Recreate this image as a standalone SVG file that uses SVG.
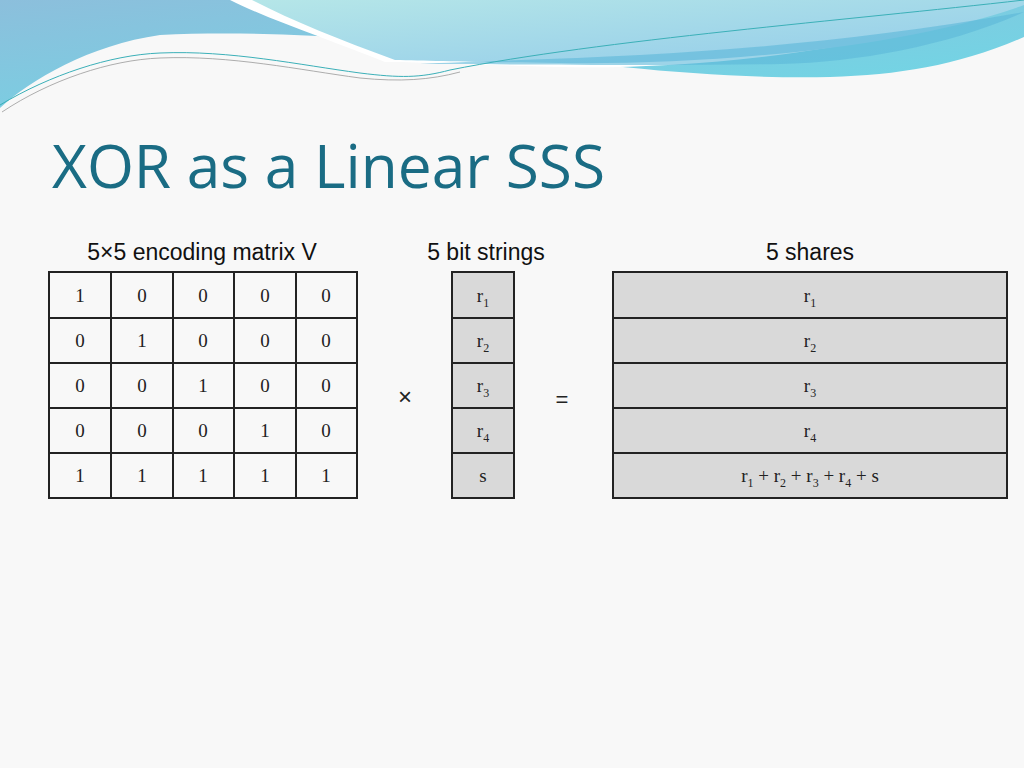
<svg xmlns="http://www.w3.org/2000/svg" width="1024" height="768" viewBox="0 0 1024 768">
<defs>
<linearGradient id="g1" x1="0" y1="0" x2="1" y2="1"><stop offset="0" stop-color="#8cbfdc"/><stop offset="1" stop-color="#6dd9e6"/></linearGradient>
<linearGradient id="g2" x1="0" y1="0" x2="1" y2="1"><stop offset="0" stop-color="#b5e6e8"/><stop offset="1" stop-color="#92cbea"/></linearGradient>
</defs>
<style>
.t{font-family:"Liberation Serif",serif;font-size:19px;fill:#222;text-anchor:middle}
.sub{font-size:12px}
.h{font-family:"Liberation Sans",Arial,sans-serif;font-size:23px;fill:#111;text-anchor:middle}
.c{fill:none;stroke:#222;stroke-width:2}
.s{fill:#d9d9d9;stroke:#222;stroke-width:2}
</style>
<rect width="1024" height="768" fill="#f8f8f8"/>
<g id="header">
<path d="M0 0 H1024 V37 C960 65 900 75 830 77 C700 80 560 60 480 50 C380 38 260 30 160 35 C90 45 30 80 0 108 Z" fill="url(#g1)"/>
<path d="M230 0 H1024 V0 C880 50 700 70 560 67 C480 65 420 62 385 62 C330 40 270 20 230 0 Z" fill="#ffffff"/>
<path d="M252 0 H1024 V5 C900 50 700 65 560 63 C480 62 430 61 395 60 C340 40 290 20 252 0 Z" fill="url(#g2)"/>
<path d="M1024 12 C950 45 860 62 780 64 C650 66 500 64 420 64 C520 58 760 60 1024 12 Z" fill="#5bb8d8" opacity="0.6"/>
<path d="M0 105 C50 75 110 55 160 53 C230 50 300 65 360 73 C400 78 420 78 450 70 C600 40 850 20 1024 0" fill="none" stroke="#3bb0b8" stroke-width="1"/>
<path d="M2 112 C50 80 110 60 160 58 C230 55 300 70 360 78 C400 82 430 80 460 72" fill="none" stroke="#999" stroke-width="0.8"/>
</g>
<text x="52" y="188" font-family="Open Sans,Liberation Sans,sans-serif" font-size="60" fill="#1a6c84" textLength="553" lengthAdjust="spacingAndGlyphs">XOR as a Linear SSS</text>
<text class="h" x="202" y="260">5×5 encoding matrix V</text>
<text class="h" x="486" y="260">5 bit strings</text>
<text class="h" x="810" y="260">5 shares</text>
<g id="matrix">
<rect class="c" x="49" y="272" width="308" height="226"/>
<path class="c" d="M111 272V498M173 272V498M234 272V498M296 272V498M49 318H357M49 363H357M49 408H357M49 453H357"/>
<g class="t">
<text x="80" y="302">1</text><text x="142" y="302">0</text><text x="203" y="302">0</text><text x="265" y="302">0</text><text x="326" y="302">0</text>
<text x="80" y="347">0</text><text x="142" y="347">1</text><text x="203" y="347">0</text><text x="265" y="347">0</text><text x="326" y="347">0</text>
<text x="80" y="392">0</text><text x="142" y="392">0</text><text x="203" y="392">1</text><text x="265" y="392">0</text><text x="326" y="392">0</text>
<text x="80" y="437">0</text><text x="142" y="437">0</text><text x="203" y="437">0</text><text x="265" y="437">1</text><text x="326" y="437">0</text>
<text x="80" y="482">1</text><text x="142" y="482">1</text><text x="203" y="482">1</text><text x="265" y="482">1</text><text x="326" y="482">1</text>
</g>
</g>
<text x="405" y="405" font-family="Liberation Sans,sans-serif" font-size="24" text-anchor="middle" fill="#222">×</text>
<g id="bits">
<rect class="s" x="452" y="272" width="62" height="226"/>
<path class="c" d="M452 318H514M452 363H514M452 408H514M452 453H514"/>
<g class="t">
<text x="483" y="302">r<tspan class="sub" dy="5">1</tspan></text>
<text x="483" y="347">r<tspan class="sub" dy="5">2</tspan></text>
<text x="483" y="392">r<tspan class="sub" dy="5">3</tspan></text>
<text x="483" y="437">r<tspan class="sub" dy="5">4</tspan></text>
<text x="483" y="482">s</text>
</g>
</g>
<text x="562" y="407" font-family="Liberation Sans,sans-serif" font-size="22" text-anchor="middle" fill="#222">=</text>
<g id="shares">
<rect class="s" x="613" y="272" width="394" height="226"/>
<path class="c" d="M613 318H1007M613 363H1007M613 408H1007M613 453H1007"/>
<g class="t">
<text x="810" y="302">r<tspan class="sub" dy="5">1</tspan></text>
<text x="810" y="347">r<tspan class="sub" dy="5">2</tspan></text>
<text x="810" y="392">r<tspan class="sub" dy="5">3</tspan></text>
<text x="810" y="437">r<tspan class="sub" dy="5">4</tspan></text>
<text x="810" y="482">r<tspan class="sub" dy="5">1</tspan><tspan dy="-5"> + r</tspan><tspan class="sub" dy="5">2</tspan><tspan dy="-5"> + r</tspan><tspan class="sub" dy="5">3</tspan><tspan dy="-5"> + r</tspan><tspan class="sub" dy="5">4</tspan><tspan dy="-5"> + s</tspan></text>
</g>
</g>
</svg>
